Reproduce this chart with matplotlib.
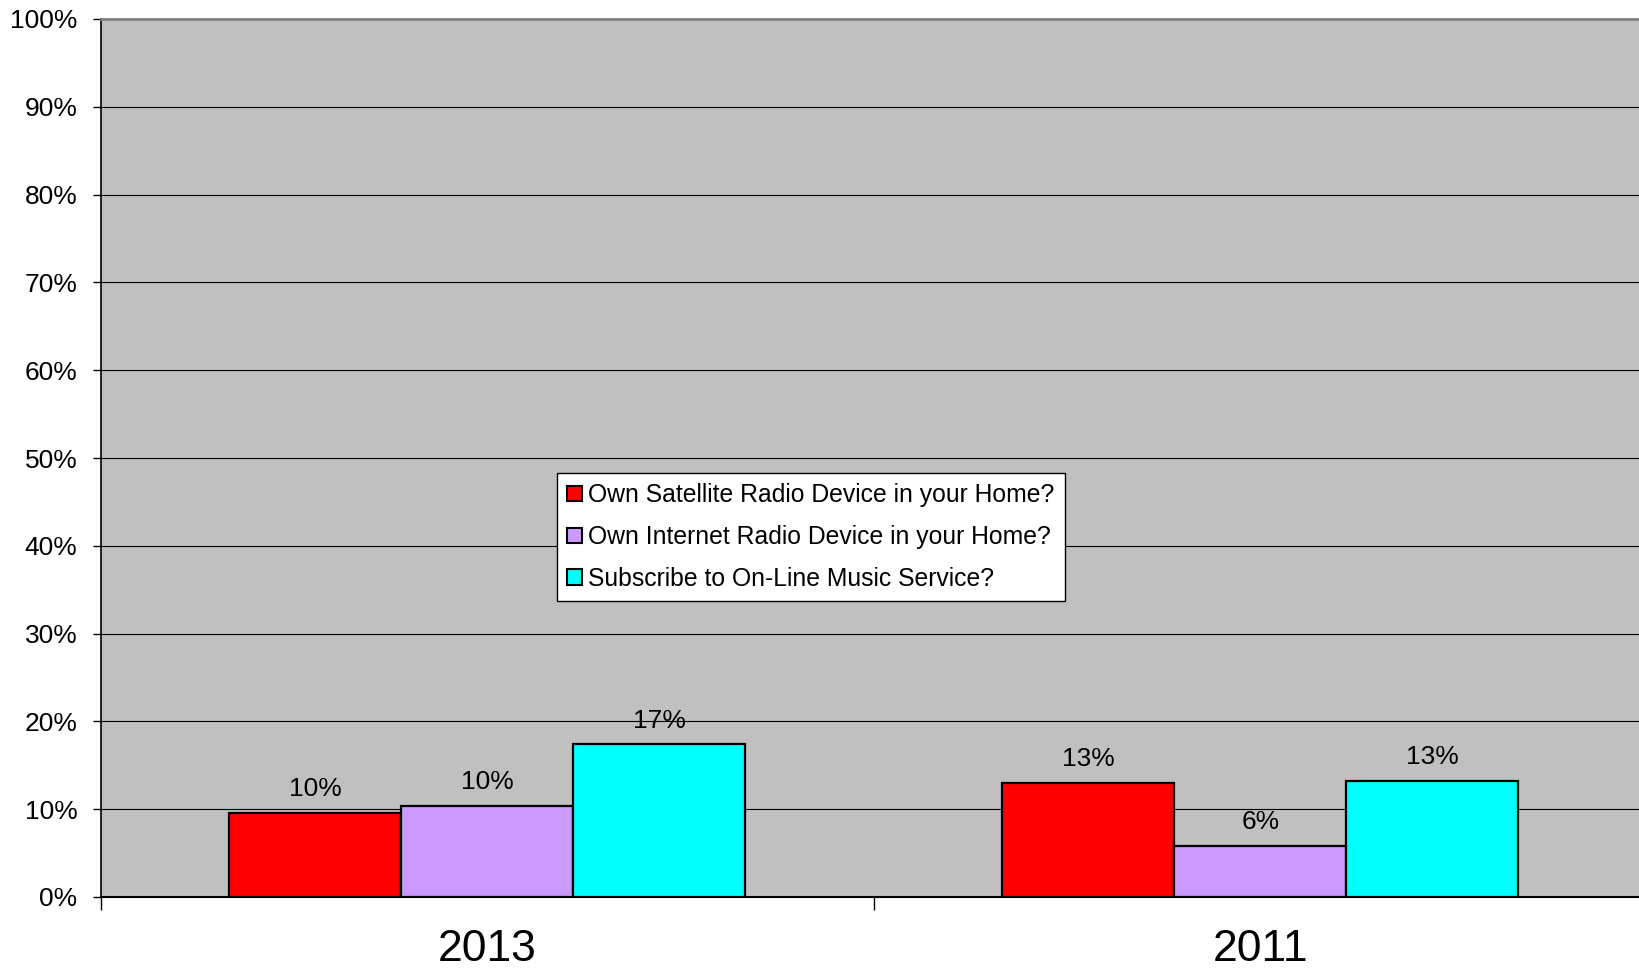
import matplotlib.pyplot as plt
import numpy as np

plt.rcParams['font.family'] = ['Liberation Sans', 'DejaVu Sans']

years = ['2013', '2011']
series = ['Own Satellite Radio Device in your Home?',
          'Own Internet Radio Device in your Home?',
          'Subscribe to On-Line Music Service?']
satellite = [0.096, 0.130]
internet = [0.104, 0.058]
online = [0.174, 0.132]
colors = ['#FF0000', '#CC99FF', '#00FFFF']

fig = plt.figure(figsize=(16.39, 9.69), dpi=100)
ax = fig.add_axes([101/1639, 72/969, 1538/1639, 878/969])
ax.set_facecolor('#C0C0C0')

x = np.arange(len(years))
w = 0.2225
for i, (vals, c, lab) in enumerate(zip([satellite, internet, online], colors, series)):
    bars = ax.bar(x + (i - 1) * w, vals, w, color=c, edgecolor='black',
                  linewidth=1.6, label=lab, zorder=3)
    for b, v in zip(bars, vals):
        ax.annotate('%d%%' % round(v * 100), (b.get_x() + b.get_width() / 2, v),
                    xytext=(0, 12), textcoords='offset points',
                    ha='center', va='baseline', fontsize=19, zorder=4)

ax.set_ylim(0, 1)
ax.set_xlim(-0.5, 1.49)
ax.set_yticks(np.arange(0, 1.01, 0.1))
ax.set_yticklabels(['%d%%' % p for p in range(0, 101, 10)], fontsize=19)
ax.yaxis.grid(True, color='black', linewidth=0.8, zorder=1)
ax.tick_params(axis='y', length=6, width=1, pad=11)

ax.set_xticks(x)
ax.set_xticklabels(years, fontsize=32)
ax.tick_params(axis='x', which='major', length=0, pad=23)
ax.set_xticks([-0.5, 0.5], minor=True)
ax.tick_params(axis='x', which='minor', length=9, width=1)

ax.spines['right'].set_visible(False)
ax.spines['top'].set_color('#808080')
ax.spines['top'].set_linewidth(2)
ax.spines['left'].set_linewidth(1.2)
ax.spines['bottom'].set_linewidth(1.5)

leg = ax.legend(loc='upper left', bbox_to_anchor=(0.2965, 0.483), borderaxespad=0,
                fontsize=17.8, frameon=True, fancybox=False, framealpha=1,
                edgecolor='black', handlelength=0.6, handleheight=0.6,
                handletextpad=0.25, borderpad=0.42, labelspacing=0.72)
leg.get_frame().set_linewidth(1)
for h in leg.legend_handles:
    h.set_linewidth(1.5)

fig.savefig('out.png', dpi=100)
